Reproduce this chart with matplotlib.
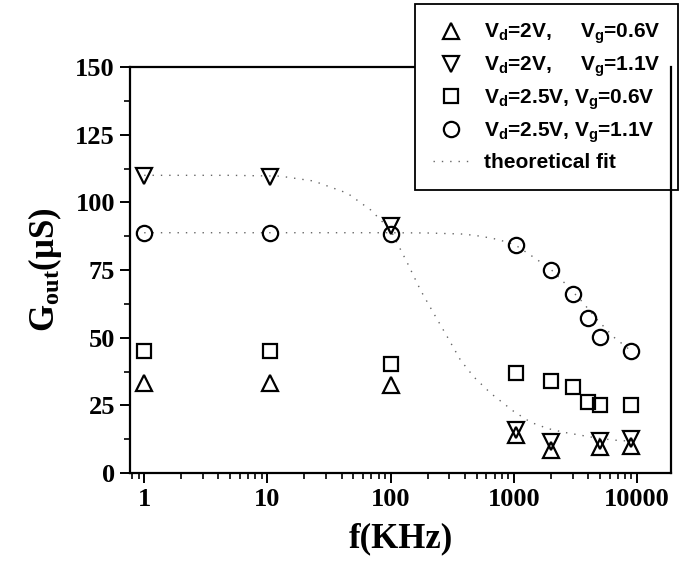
import matplotlib
matplotlib.use("Agg")
import matplotlib.pyplot as plt
from matplotlib.ticker import FixedLocator, LogLocator, NullFormatter, FixedFormatter

plt.rcParams['mathtext.fontset'] = 'custom'
plt.rcParams['mathtext.rm'] = 'Liberation Serif:bold'
plt.rcParams['mathtext.it'] = 'Liberation Serif:bold'
plt.rcParams['mathtext.bf'] = 'Liberation Serif:bold'
plt.rcParams['mathtext.sf'] = 'Liberation Sans:bold'

# -- measured points --
f_low = [1, 10.5, 100, 1050, 2000, 5000, 9000]
g_up = [33.2, 33.2, 32.5, 14.0, 8.5, 9.5, 10.0]          # Vd=2V, Vg=0.6V
g_down = [109.8, 109.4, 91.2, 15.8, 11.4, 12.0, 12.5]     # Vd=2V, Vg=1.1V

f_all = [1, 10.5, 100, 1050, 2000, 3000, 4000, 5000, 9000]
g_square = [45.1, 45.1, 40.3, 37.0, 34.0, 31.8, 26.2, 25.1, 25.1]   # Vd=2.5V, Vg=0.6V
g_circle = [88.7, 88.7, 88.3, 84.2, 75.0, 66.1, 57.3, 50.2, 45.1]   # Vd=2.5V, Vg=1.1V

# -- theoretical fit curves --
fit1_f = [1, 5, 12.7, 23.7, 44.6, 69, 100, 137, 175, 224, 290, 370, 475, 650,
          1000, 1370, 1880, 2540, 3500, 4800, 6500, 9000]
fit1_g = [110, 110, 109.7, 107.9, 103.4, 97.2, 89.8, 77.6, 67.6, 59.0, 50.2, 41.7,
          35.5, 29.5, 22.8, 18.8, 16.5, 15.1, 14.0, 12.9, 12.2, 11.8]
fit2_f = [1, 10, 100, 200, 390, 540, 690, 890, 1050, 1370, 1990, 2540, 3500,
          4800, 6500, 9000]
fit2_g = [88.8, 88.8, 88.8, 88.7, 88.3, 87.5, 86.6, 85.3, 84.0, 80.5, 75.4, 70.6,
          63.9, 56.5, 50.2, 45.1]

labels = [r'V$_\mathsf{d}$=2V,     V$_\mathsf{g}$=0.6V',
          r'V$_\mathsf{d}$=2V,     V$_\mathsf{g}$=1.1V',
          r'V$_\mathsf{d}$=2.5V, V$_\mathsf{g}$=0.6V',
          r'V$_\mathsf{d}$=2.5V, V$_\mathsf{g}$=1.1V',
          'theoretical fit']

fig = plt.figure(figsize=(7, 5.68), dpi=100)
ax = fig.add_axes([0.186, 0.167, 0.773, 0.715])

mk = dict(linestyle='none', markerfacecolor='none', markeredgecolor='black',
          markeredgewidth=1.6)
fitstyle = dict(color='#666666', linewidth=1.0, dashes=(1, 5))

ax.plot(fit1_f, fit1_g, **fitstyle, zorder=1)
ax.plot(fit2_f, fit2_g, **fitstyle, zorder=1)
h1, = ax.plot(f_low, g_up, marker='^', markersize=11, **mk)
h2, = ax.plot(f_low, g_down, marker='v', markersize=11, **mk)
h3, = ax.plot(f_all, g_square, marker='s', markersize=10, **mk)
h4, = ax.plot(f_all, g_circle, marker='o', markersize=11, **mk)
h5, = ax.plot([], [], **fitstyle)

ax.set_xscale('log')
ax.set_xlim(0.77, 19000)
ax.set_ylim(0, 150)

ax.xaxis.set_major_locator(FixedLocator([1, 10, 100, 1000, 10000]))
ax.xaxis.set_major_formatter(FixedFormatter(['1', '10', '100', '1000', '10000']))
ax.xaxis.set_minor_locator(LogLocator(base=10, subs=range(2, 10), numticks=20))
ax.xaxis.set_minor_formatter(NullFormatter())
ax.set_yticks([0, 25, 50, 75, 100, 125, 150])
ax.set_yticks([12.5, 37.5, 62.5, 87.5, 112.5, 137.5], minor=True)

for lab in ax.get_xticklabels() + ax.get_yticklabels():
    lab.set_fontfamily('Liberation Serif')
    lab.set_fontweight('bold')
    lab.set_fontsize(19)

ax.tick_params(which='major', direction='out', length=7, width=1.4, pad=4)
ax.tick_params(which='minor', direction='out', length=4, width=1.2)
for s in ax.spines.values():
    s.set_linewidth(1.6)
# right spine shows through the legend box in the original
ax.spines['right'].set_zorder(11)

ax.set_xlabel('f(KHz)', fontfamily='Liberation Serif', fontweight='bold',
              fontsize=25, labelpad=8)
ax.set_ylabel(r'G$_{\mathrm{out}}$(μS)', fontfamily='Liberation Serif',
              fontweight='bold', fontsize=25, labelpad=8)

leg = ax.legend([h1, h2, h3, h4, h5], labels, loc='upper left',
                bbox_to_anchor=(0.593, 0.993), bbox_transform=fig.transFigure,
                prop={'family': 'Liberation Sans', 'weight': 'bold', 'size': 15},
                frameon=True, fancybox=False, edgecolor='black', framealpha=1,
                handlelength=1.7, handletextpad=0.75, labelspacing=0.42,
                borderpad=0.85, borderaxespad=0)
leg.get_frame().set_linewidth(1.3)
leg.set_zorder(10)

fig.savefig('out.png', dpi=100)
